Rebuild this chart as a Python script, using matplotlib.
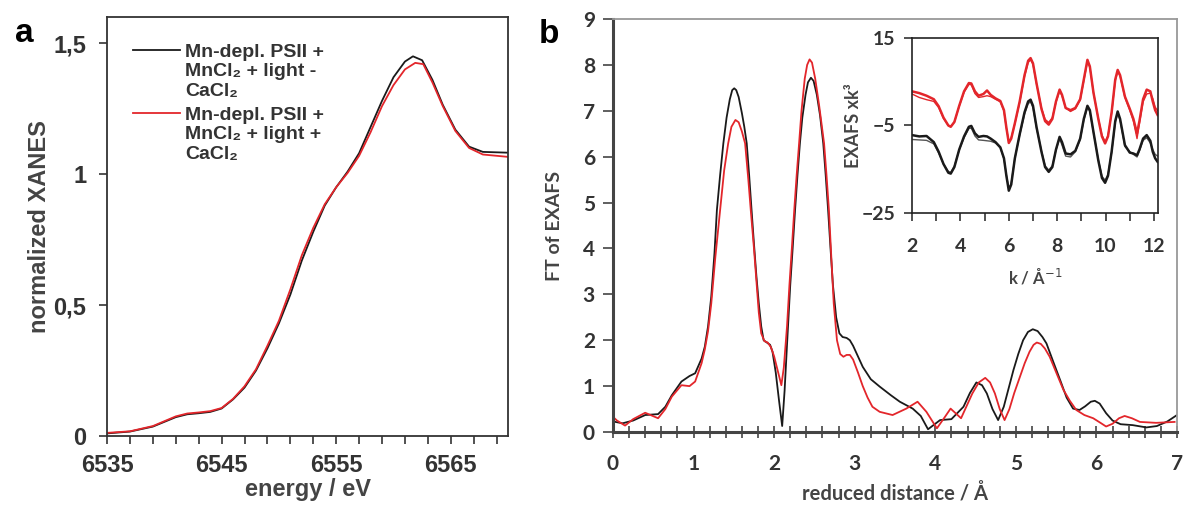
import numpy as np
import matplotlib
matplotlib.use("Agg")
import matplotlib.pyplot as plt
from matplotlib.lines import Line2D
from matplotlib.ticker import MultipleLocator

# XANES (panel a)
xanes_e_black = [6535, 6537, 6539, 6541, 6542, 6543, 6544, 6545, 6546, 6547, 6548, 6549, 6550,
                 6551, 6552, 6553, 6554, 6555, 6556, 6557, 6558, 6559, 6560, 6561, 6561.7,
                 6562.5, 6563.4, 6564.3, 6565.4, 6566.6, 6567.8, 6570]
xanes_black = [0.01, 0.017, 0.036, 0.072, 0.083, 0.087, 0.092, 0.105, 0.14, 0.185, 0.25, 0.335, 0.43,
               0.54, 0.67, 0.78, 0.88, 0.95, 1.01, 1.08, 1.18, 1.28, 1.37, 1.43, 1.45,
               1.435, 1.36, 1.265, 1.17, 1.105, 1.085, 1.082]
xanes_e_red = [6535, 6537, 6539, 6541, 6542, 6543, 6544, 6545, 6546, 6547, 6548, 6549, 6550,
               6551, 6552, 6553, 6554, 6555, 6556, 6557, 6558, 6559, 6560, 6561, 6561.9,
               6562.6, 6563.4, 6564.3, 6565.4, 6566.6, 6567.8, 6570]
xanes_red = [0.012, 0.018, 0.038, 0.075, 0.086, 0.09, 0.095, 0.107, 0.142, 0.19, 0.255, 0.345, 0.44,
             0.56, 0.69, 0.795, 0.885, 0.95, 1.005, 1.07, 1.16, 1.26, 1.34, 1.40, 1.425,
             1.42, 1.35, 1.26, 1.165, 1.10, 1.075, 1.066]

# FT of EXAFS (panel b)
ft_r_black = [0.0, 0.12, 0.25, 0.4, 0.56, 0.65, 0.73, 0.85, 0.95, 1.02, 1.1, 1.14, 1.18, 1.22, 1.26,
              1.29, 1.33, 1.37, 1.41, 1.45, 1.48, 1.505, 1.53, 1.56, 1.6, 1.63, 1.66, 1.69, 1.72,
              1.75, 1.78, 1.81, 1.84, 1.87, 1.91, 1.95, 1.98, 2.02, 2.06, 2.1, 2.13, 2.16, 2.2,
              2.23, 2.26, 2.29, 2.32, 2.35, 2.39, 2.42, 2.457, 2.49, 2.53, 2.57, 2.61, 2.64, 2.67,
              2.7, 2.73, 2.77, 2.81, 2.85, 2.9, 2.94, 2.98, 3.04, 3.1, 3.2, 3.31, 3.45, 3.56, 3.72,
              3.82, 3.91, 4.06, 4.2, 4.35, 4.43, 4.51, 4.58, 4.64, 4.71, 4.78, 4.85, 4.91, 4.97,
              5.03, 5.09, 5.15, 5.21, 5.27, 5.33, 5.38, 5.46, 5.55, 5.63, 5.71, 5.79, 5.86, 5.93,
              5.98, 6.04, 6.12, 6.2, 6.3, 6.45, 6.62, 6.75, 6.88, 7.0]
ft_black = [0.23, 0.19, 0.25, 0.37, 0.39, 0.55, 0.8, 1.10, 1.22, 1.28, 1.6, 1.86, 2.3, 2.95, 3.9,
            4.84, 5.6, 6.29, 6.85, 7.25, 7.45, 7.49, 7.45, 7.3, 6.95, 6.65, 6.29, 5.6, 4.84,
            4.1, 3.4, 2.8, 2.3, 2.0, 1.95, 1.9, 1.75, 1.3, 0.7, 0.13, 0.9, 1.9, 3.2,
            4.0, 4.84, 5.6, 6.29, 6.85, 7.35, 7.62, 7.72, 7.65, 7.35, 6.9, 6.29, 5.6, 4.84,
            4.0, 3.2, 2.5, 2.15, 2.07, 2.05, 2.0, 1.88, 1.65, 1.42, 1.15, 0.99, 0.8, 0.66, 0.51,
            0.35, 0.06, 0.26, 0.28, 0.55, 0.85, 1.08, 1.02, 0.84, 0.5, 0.26, 0.55, 0.95, 1.35,
            1.7, 2.0, 2.18, 2.24, 2.2, 2.07, 1.93, 1.55, 1.13, 0.75, 0.51, 0.48, 0.56, 0.66,
            0.68, 0.62, 0.41, 0.25, 0.17, 0.15, 0.10, 0.13, 0.23, 0.37]
ft_r_red = [0.0, 0.05, 0.15, 0.25, 0.4, 0.56, 0.65, 0.73, 0.85, 0.95, 1.02, 1.1, 1.14, 1.18, 1.22,
            1.27, 1.33, 1.38, 1.43, 1.47, 1.52, 1.56, 1.6, 1.64, 1.68, 1.71, 1.75, 1.78, 1.81,
            1.84, 1.88, 1.92, 1.96, 2.0, 2.05, 2.09, 2.12, 2.16, 2.19, 2.22, 2.25, 2.28, 2.31,
            2.34, 2.38, 2.41, 2.44, 2.47, 2.51, 2.56, 2.62, 2.65, 2.68, 2.71, 2.74, 2.78, 2.82,
            2.86, 2.9, 2.94, 2.98, 3.04, 3.1, 3.16, 3.22, 3.31, 3.47, 3.64, 3.78, 3.89, 4.02,
            4.12, 4.19, 4.32, 4.46, 4.54, 4.62, 4.68, 4.74, 4.8, 4.86, 4.92, 4.98, 5.05, 5.11,
            5.17, 5.22, 5.26, 5.31, 5.36, 5.42, 5.5, 5.59, 5.67, 5.75, 5.85, 5.96, 6.05, 6.12,
            6.2, 6.28, 6.35, 6.44, 6.54, 6.74, 6.97]
ft_red = [0.33, 0.25, 0.14, 0.28, 0.42, 0.30, 0.5, 0.77, 1.02, 1.0, 1.10, 1.5, 1.8, 2.2, 2.8,
          3.8, 4.84, 5.7, 6.29, 6.65, 6.80, 6.75, 6.55, 6.29, 5.5, 4.84, 4.0, 3.3, 2.6,
          2.15, 1.98, 1.95, 1.85, 1.65, 1.3, 1.02, 1.4, 2.3, 3.2, 4.0, 4.84, 5.6, 6.29,
          7.0, 7.7, 8.0, 8.12, 8.05, 7.7, 7.1, 6.29, 5.6, 4.84, 3.8, 2.8, 2.0, 1.7,
          1.64, 1.68, 1.68, 1.58, 1.3, 1.0, 0.75, 0.55, 0.44, 0.37, 0.51, 0.66, 0.44, 0.08,
          0.33, 0.51, 0.30, 0.84, 1.08, 1.18, 1.08, 0.84, 0.5, 0.26, 0.5, 0.85, 1.20, 1.5,
          1.75, 1.9, 1.95, 1.92, 1.82, 1.64, 1.3, 0.92, 0.68, 0.48, 0.37, 0.30, 0.2, 0.12,
          0.18, 0.3, 0.35, 0.3, 0.22, 0.20, 0.22]

# EXAFS k-space (inset), experiment and simulation for both samples
k = [2.0, 2.3, 2.6, 2.9, 3.1, 3.3, 3.5, 3.6, 3.75, 3.95,
     4.15, 4.35, 4.45, 4.6, 4.75, 4.95, 5.1, 5.25, 5.45, 5.65,
     5.8, 5.9, 6.0, 6.1, 6.25, 6.45, 6.65, 6.8, 6.9, 7.0,
     7.15, 7.35, 7.5, 7.65, 7.8, 7.95, 8.1, 8.2, 8.35, 8.55,
     8.75, 8.95, 9.1, 9.25, 9.35, 9.5, 9.7, 9.85, 9.98, 10.1,
     10.25, 10.4, 10.5, 10.6, 10.8, 11.0, 11.15, 11.3, 11.4, 11.55,
     11.7, 11.85, 11.95, 12.05, 12.15]
exafs_red = [2.8, 2.4, 1.8, 1.0, -0.6, -3.2, -5.0, -5.3, -4.2, -0.5,
             2.8, 4.7, 4.6, 2.8, 1.8, 2.2, 3.0, 2.0, 1.2, 0.6,
             -1.5, -5.5, -9.0, -8.0, -4.5, 0.5, 6.5, 9.8, 10.4, 9.2,
             4.5, -1.2, -4.0, -4.8, -3.5, 0.5, 3.2, 2.0, -1.0, -1.5,
             -1.0, 1.0, 5.5, 10.0, 8.5, 2.5, -3.5, -7.5, -9.1, -7.5,
             -2.0, 5.5, 7.7, 6.5, 1.6, -1.2, -3.5, -6.8, -4.0, 1.0,
             3.2, 2.8, 0.5, -1.5, -2.6]
exafs_red_fit = [2.2, 1.4, 0.9, 0.5, -0.9, -3.4, -5.0, -5.2, -4.2, -0.6,
                 2.6, 4.4, 4.3, 2.3, 1.4, 1.6, 1.8, 1.6, 1.0, 0.4,
                 -1.7, -5.6, -8.7, -7.8, -4.6, 0.3, 6.2, 9.4, 10.0, 9.0,
                 4.4, -1.0, -3.6, -4.3, -3.2, 0.3, 2.9, 1.8, -1.0, -1.8,
                 -1.2, 0.8, 5.2, 9.6, 8.3, 2.5, -3.4, -7.2, -8.7, -7.3,
                 -2.2, 5.2, 7.3, 6.3, 1.4, -1.5, -4.0, -8.0, -4.5, 0.4,
                 2.2, 2.4, 1.2, -0.8, -1.6]
exafs_black = [-7.2, -7.5, -7.4, -8.8, -11.0, -13.8, -15.8, -16.0, -14.5, -10.5,
               -7.5, -5.3, -5.1, -6.8, -7.6, -7.4, -7.5, -8.0, -8.8, -10.0,
               -12.5, -16.5, -19.9, -18.5, -12.5, -7.0, -2.0, 0.5, 0.9, -0.5,
               -5.5, -11.0, -14.5, -15.6, -14.5, -10.5, -7.6, -8.8, -11.4, -11.6,
               -10.8, -8.0, -3.5, -0.5, -1.5, -6.5, -13.0, -17.0, -18.1, -16.5,
               -11.0, -4.0, -1.8, -3.5, -9.5, -11.2, -11.4, -11.8, -10.5, -8.0,
               -7.2, -8.5, -11.0, -12.5, -13.3]
exafs_black_fit = [-8.2, -8.3, -8.4, -9.2, -11.3, -13.8, -15.5, -15.7, -14.3, -10.6,
                   -7.8, -5.7, -5.6, -7.4, -8.3, -8.4, -8.5, -8.6, -9.0, -10.1,
                   -12.6, -16.3, -19.4, -18.2, -12.5, -7.2, -2.4, 0.0, 0.4, -0.9,
                   -5.7, -10.8, -14.2, -15.2, -14.2, -10.6, -8.0, -9.5, -12.0, -12.2,
                   -11.0, -8.2, -3.8, -0.9, -1.8, -6.6, -12.8, -16.6, -17.5, -16.2,
                   -11.2, -4.3, -2.2, -3.8, -9.8, -11.0, -11.6, -12.2, -10.8, -8.4,
                   -7.8, -9.0, -10.5, -11.6, -12.0]

legend_labels = ["Mn-depl. PSII +\nMnCl\u2082 + light -\nCaCl\u2082",
                 "Mn-depl. PSII +\nMnCl\u2082 + light +\nCaCl\u2082"]

BLACK = "#1a1a1a"
RED = "#e3262b"
TXT = "#333333"
fa = ["Liberation Sans", "DejaVu Sans"]
fb = ["Lato", "DejaVu Sans"]

fig = plt.figure(figsize=(11.84, 5.07), dpi=100)

# ---- panel a
ax = fig.add_axes([0.0904, 0.140, 0.3387, 0.8264])
ax.plot(xanes_e_black, xanes_black, color=BLACK, lw=1.3)
ax.plot(xanes_e_red, xanes_red, color=RED, lw=1.3)
ax.set_xlim(6535, 6570)
ax.set_ylim(0, 1.6)
ax.set_xticks([6535, 6545, 6555, 6565])
ax.set_xticks(np.arange(6535, 6571, 2), minor=True)
ax.set_yticks([0, 0.5, 1, 1.5])
ax.set_yticklabels(["0", "0,5", "1", "1,5"])
ax.tick_params(which="both", direction="out", length=6, width=1.2, color="#333333",
               labelsize=17, labelcolor=TXT)
ax.tick_params(axis="x", which="both", pad=7)
ax.tick_params(axis="y", pad=9)
for lab in ax.get_xticklabels() + ax.get_yticklabels():
    lab.set_family(fa)
    lab.set_fontweight("bold")
for s in ax.spines.values():
    s.set_color("#333333")
    s.set_linewidth(1.3)
ax.set_xlabel("energy / eV", family=fa, fontweight="bold", fontsize=17, color="#444444", labelpad=1)
ax.set_ylabel("normalized XANES", family=fa, fontweight="bold", fontsize=17, color="#444444")
ax.yaxis.set_label_coords(-0.14, 0.5)

# legend drawn by hand so the sample line sits at the first text line
for i, (col, lab) in enumerate(zip([BLACK, RED], legend_labels)):
    yl = [0.921, 0.771][i]
    ax.add_line(Line2D([0.065, 0.182], [yl, yl], transform=ax.transAxes, color=col, lw=1.3))
    ax.text(0.195, [0.936, 0.786][i], lab, transform=ax.transAxes, va="top", ha="left",
            family=fa, fontweight="bold", fontsize=14, color=TXT, linespacing=1.2)

fig.text(0.013, 0.918, "a", family=fa, fontweight="bold", fontsize=24, color="black")

# ---- panel b
bx = fig.add_axes([0.5177, 0.1479, 0.4764, 0.8146])
bx.plot(ft_r_black, ft_black, color=BLACK, lw=1.3)
bx.plot(ft_r_red, ft_red, color=RED, lw=1.3)
bx.set_xlim(0, 7)
bx.set_ylim(0, 9)
bx.set_xticks(range(0, 8))
bx.xaxis.set_minor_locator(MultipleLocator(0.2))
bx.set_yticks(range(0, 10))
bx.tick_params(axis="x", which="both", direction="inout", length=8, width=1.2, color="#444444", pad=12)
bx.tick_params(axis="y", which="both", direction="out", length=7, width=1.2, color="#444444", pad=6)
bx.tick_params(labelsize=15, labelcolor=TXT)
for lab in bx.get_xticklabels() + bx.get_yticklabels():
    lab.set_family(fb)
    lab.set_fontweight("bold")
bx.spines["left"].set_color("#444444")
bx.spines["bottom"].set_color("#444444")
bx.spines["left"].set_linewidth(2.2)
bx.spines["bottom"].set_linewidth(2.2)
bx.spines["top"].set_color("#999999")
bx.spines["right"].set_color("#999999")
bx.spines["top"].set_linewidth(1.3)
bx.spines["right"].set_linewidth(1.3)
bx.set_xlabel("reduced distance / \u00c5", family=fb, fontweight="bold", fontsize=14.5, color="#444444", labelpad=6)
bx.set_ylabel("FT of EXAFS", family=fb, fontweight="bold", fontsize=14, color="#444444", labelpad=14)

fig.text(0.455, 0.915, "b", family=fa, fontweight="bold", fontsize=24, color="black")

# ---- inset
ix = fig.add_axes([0.7703, 0.5799, 0.2078, 0.3452])
ix.plot(k, exafs_red_fit, color=RED, lw=1.0)
ix.plot(k, exafs_red, color=RED, lw=1.8)
ix.plot(k, exafs_black_fit, color="#555555", lw=1.0)
ix.plot(k, exafs_black, color=BLACK, lw=1.8)
ix.set_xlim(2, 12.17)
ix.set_ylim(-25, 15)
ix.set_xticks([2, 4, 6, 8, 10, 12])
ix.xaxis.set_minor_locator(MultipleLocator(1))
ix.set_yticks([-25, -5, 15])
ix.tick_params(which="both", direction="out", length=6, width=1.2, color="#333333",
               labelsize=14, labelcolor=TXT)
ix.tick_params(axis="x", which="both", pad=12)
ix.tick_params(axis="y", pad=6)
for lab in ix.get_xticklabels() + ix.get_yticklabels():
    lab.set_family(fb)
    lab.set_fontweight("bold")
for s in ix.spines.values():
    s.set_color("#222222")
    s.set_linewidth(1.2)
ix.set_xlabel("k / \u00c5$^{-1}$", family=fb, fontweight="bold", fontsize=12, color="#444444", labelpad=9)
ix.set_ylabel("EXAFS xk\u00b3", family=fb, fontweight="bold", fontsize=13, color="#444444", labelpad=0)

fig.savefig("out.png", dpi=100)
